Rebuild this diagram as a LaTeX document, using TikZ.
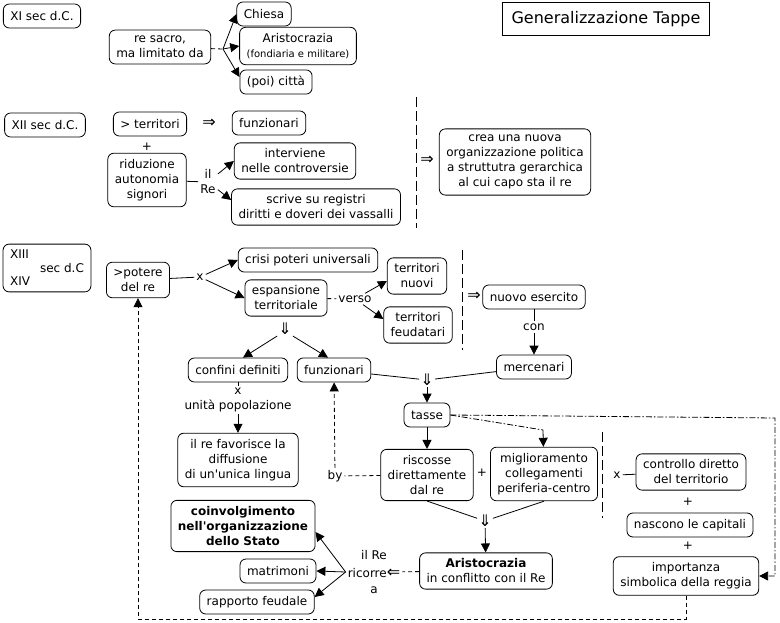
\documentclass[tikz,border=0pt]{standalone}
\usepackage{fontspec}
\setmainfont{DejaVu Sans}
\usepackage{tikz}
\usetikzlibrary{arrows.meta}
\definecolor{ink}{RGB}{0,0,0}
\newcommand{\cmapfont}{\fontsize{12}{15}\selectfont}
\newcommand{\smallcmap}{\fontsize{10}{12}\selectfont}
\newcommand{\bigarrowfont}{\fontsize{16}{16}\selectfont}
\tikzset{
  box/.style={draw=ink, rounded corners=6pt, line width=0.8pt, align=center, inner xsep=7pt, inner ysep=6pt, minimum height=24pt, font=\cmapfont},
  titlebox/.style={draw=ink, line width=0.8pt, inner xsep=9pt, minimum height=33pt, font=\fontsize{16}{18}\selectfont},
  lbl/.style={align=center, inner sep=2pt, font=\cmapfont},
  implbl/.style={inner sep=1pt, font=\bigarrowfont},
  link/.style={line width=0.8pt, draw=ink},
  arrow/.style={-{Triangle[length=9pt,width=9pt]}, line width=0.8pt, draw=ink},
  dashlink/.style={link, dash pattern=on 4pt off 3pt},
  dotlink/.style={link, dash pattern=on 6pt off 2pt on 1.5pt off 2pt},
  divider/.style={line width=0.8pt, dash pattern=on 10pt off 4pt}
}

\begin{document}
\begin{tikzpicture}[x=1pt,y=-1pt]
  \useasboundingbox (0,0) rectangle (780,623);
  % XI secolo
  \node[box] (xi) at (42,16) {XI sec d.C.};
  \node[box] (resacro) at (160,47) {re sacro,\\ma limitato da};
  \node[box] (chiesa) at (264,14) {Chiesa};
  \node[box] (aristo1) at (298,46) {Aristocrazia\\{\smallcmap (fondiaria e militare)}};
  \node[box] (citta) at (276,82) {(poi) città};
  \node[titlebox] (title) at (606,19) {Generalizzazione Tappe};
  \coordinate (j1) at (223,49);
  \draw[dashlink] (resacro) -- (j1);
  \draw[arrow] (j1) -- (chiesa.west);
  \draw[arrow] (j1) -- (aristo1.west);
  \draw[arrow] (j1) -- ([yshift=5pt]citta.west);
  % XII secolo
  \node[box] (xii) at (45,125) {XII sec d.C.};
  \node[box] (terr) at (150,124) {> territori};
  \node[implbl] (imp1) at (209,123) {⇒};
  \node[box] (funz1) at (269,123) {funzionari};
  \node[lbl] (plus1) at (147,147) {+};
  \node[box] (riduz) at (147,180) {riduzione\\autonomia\\signori};
  \node[lbl] (ilre1) at (208,182) {il\\Re};
  \node[box] (interv) at (295,161) {interviene\\nelle controversie};
  \node[box] (scrive) at (316,207) {scrive su registri\\diritti e doveri dei vassalli};
  \draw[link] (riduz) -- (ilre1);
  \draw[arrow] (ilre1) -- (interv.west);
  \draw[arrow] (ilre1) -- ([yshift=7pt]scrive.west);
  \draw[divider] (416,97) -- (416,228);
  \node[implbl] (imp2) at (427,160) {⇒};
  \node[box] (crea) at (515,162) {crea una nuova\\organizzazione politica\\a struttutra gerarchica\\al cui capo sta il re};
  % XIII - XIV secolo
  \node[box, align=left] (xiii) at (47,268) {XIII\\[-1.5pt]\hspace*{30pt}sec d.C\\[-1.5pt]XIV};
  \node[box] (potere) at (138,280) {>potere\\del re};
  \node[lbl] (x1) at (200,277) {x};
  \node[box] (crisi) at (308,260) {crisi poteri universali};
  \node[box] (espans) at (286,298) {espansione\\territoriale};
  \draw[link] (potere) -- (x1);
  \draw[arrow] (x1) -- (crisi.west);
  \draw[arrow] (x1) -- (espans.west);
  \node[lbl] (verso) at (355,299) {verso};
  \node[box] (nuovi) at (417,276) {territori\\nuovi};
  \node[box] (feud) at (418,325) {territori\\feudatari};
  \draw[dashlink] (espans) -- (verso);
  \draw[arrow] (verso) -- ([yshift=-5pt]nuovi.west);
  \draw[arrow] (verso) -- ([yshift=6pt]feud.west);
  \draw[divider] (462,250) -- (462,350);
  \node[implbl] (imp3) at (474,296) {⇒};
  \node[box] (esercito) at (534,297) {nuovo esercito};
  \node[lbl] (con) at (534,327) {con};
  \node[box] (mercenari) at (534,367) {mercenari};
  \draw[link] (esercito) -- (con);
  \draw[arrow] (con) -- (mercenari);
  \node[implbl] (dn1) at (285,329) {⇓};
  \node[box] (confini) at (238,370) {confini definiti};
  \node[box] (funz2) at (334,370) {funzionari};
  \draw[arrow] (dn1.south west) -- ([xshift=5pt]confini.north);
  \draw[arrow] (dn1.south east) -- ([xshift=-6pt]funz2.north);
  \node[lbl] (popol) at (238,400) {x\\unità popolazione};
  \node[box] (lingua) at (238,460) {il re favorisce la\\diffusione\\di un\textquotesingle unica lingua};
  \draw[link] (confini) -- (popol);
  \draw[arrow] (popol) -- (lingua);
  \node[implbl] (dn2) at (427,380) {⇓};
  \node[box] (tasse) at (427,415) {tasse};
  \draw[link] (funz2) -- (dn2);
  \draw[link] (mercenari) -- (dn2);
  \draw[arrow] (dn2) -- (tasse);
  \node[box] (riscosse) at (427,475) {riscosse\\direttamente\\dal re};
  \node[lbl] (plus2) at (482,473) {+};
  \node[box] (miglior) at (544,474) {miglioramento\\collegamenti\\periferia-centro};
  \coordinate (j2) at (543,430);
  \draw[arrow] (tasse) -- (riscosse);
  \draw[dotlink] (tasse.east) -- (j2);
  \draw[arrow] (j2) -- (miglior);
  \node[lbl] (by) at (335,476) {by};
  \draw[dashlink] (riscosse) -- (by);
  \draw[dashlink, arrow] (by) -- (funz2);
  \draw[divider] (602,432) -- (602,518);
  \node[lbl] (xlab) at (617,475) {x};
  \node[box] (controllo) at (691,472) {controllo diretto\\del territorio};
  \draw[link] (xlab) -- (controllo);
  \node[lbl] (plus3) at (688,502) {+};
  \node[box] (capitali) at (690,525) {nascono le capitali};
  \node[lbl] (plus4) at (688,546) {+};
  \node[box] (importanza) at (686,576) {importanza\\simbolica della reggia};
  \coordinate (j3) at (775,418);
  \coordinate (j4) at (775,576);
  \draw[dotlink, arrow] (tasse.east) -- (j3) -- (j4) -- (importanza.east);
  \node[implbl] (dn3) at (485,521) {⇓};
  \node[box] (aristo2) at (486,571) {\textbf{Aristocrazia}\\in conflitto con il Re};
  \draw[link] (riscosse.south) -- (dn3);
  \draw[link] (miglior.south) -- (dn3);
  \draw[arrow] (dn3) -- (aristo2);
  \node[lbl] (ricorre) at (374,572) {il Re\\[3pt]ricorre{\bigarrowfont ⇐}\\[1pt]a};
  \node[box, font=\cmapfont\bfseries] (coinv) at (243,526) {coinvolgimento\\nell\textquotesingle organizzazione\\dello Stato};
  \node[box] (matrimoni) at (278,571) {matrimoni};
  \node[box] (rapporto) at (257,602) {rapporto feudale};
  \draw[dashlink] (aristo2) -- (ricorre);
  \draw[arrow] (ricorre.west) -- ([yshift=-6pt]coinv.east);
  \draw[arrow] (ricorre.west) -- (matrimoni.east);
  \draw[arrow] (ricorre.west) -- ([yshift=5pt]rapporto.east);
  % ritorno al potere del re
  \coordinate (j5) at (686,619);
  \coordinate (j6) at (138,619);
  \draw[dashlink, arrow] (importanza.south) -- (j5) -- (j6) -- (potere.south);
\end{tikzpicture}
\end{document}
